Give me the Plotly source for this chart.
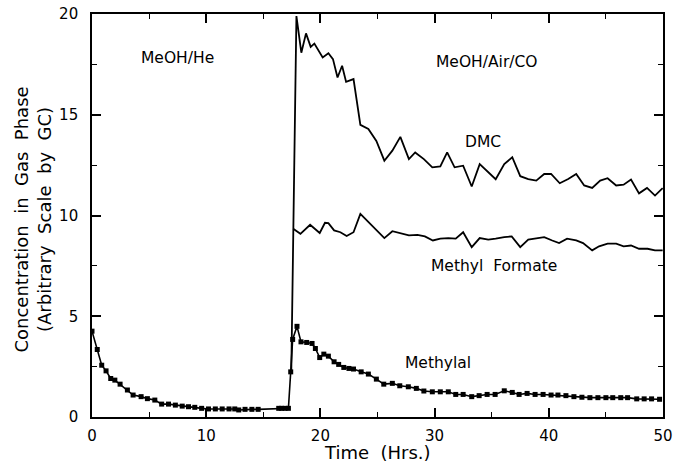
import plotly.graph_objects as go

# ---------------- data ----------------
dmc_x = [17.45, 17.9, 18.33, 18.74, 19.15, 19.47, 20.2, 20.7, 21.1, 21.5, 21.9, 22.25, 22.9,
         23.5, 24.2, 24.9, 25.6, 26.3, 27.0, 27.75, 28.3, 29.06, 29.8, 30.5, 31.1, 31.75,
         32.5, 33.25, 33.95, 34.7, 35.35, 36.1, 36.8, 37.5, 38.2, 38.9, 39.6, 40.2, 40.96,
         41.7, 42.4, 43.1, 43.8, 44.5, 45.15, 45.9, 46.55, 47.2, 47.9, 48.6, 49.3, 49.97]
dmc_y = [2.2, 19.9, 18.08, 19.04, 18.37, 18.53, 17.84, 18.05, 17.76, 16.85, 17.43, 16.63, 16.77,
         14.5, 14.29, 13.7, 12.72, 13.22, 13.9, 12.8, 13.13, 12.8, 12.39, 12.44, 13.13, 12.39,
         12.47, 11.44, 12.55, 12.15, 11.8, 12.55, 12.89, 11.95, 11.81, 11.73, 12.06, 12.06, 11.6,
         11.81, 12.06, 11.49, 11.37, 11.73, 11.85, 11.49, 11.53, 11.78, 11.1, 11.37, 10.99, 11.36]

mf_x = [17.62, 18.25, 19.1, 19.94, 20.4, 20.7, 21.2, 21.75, 22.3, 22.9, 23.5, 24.5, 25.6,
        26.3, 27.0, 27.75, 28.5, 29.15, 29.85, 30.5, 31.2, 31.85, 32.5, 33.25, 33.95, 34.7,
        35.35, 36.1, 36.75, 37.5, 38.2, 38.9, 39.6, 40.3, 40.9, 41.6, 42.4, 43.0, 43.8, 44.4,
        45.15, 45.9, 46.55, 47.2, 47.9, 48.65, 49.3, 49.97]
mf_y = [9.34, 9.09, 9.54, 9.13, 9.64, 9.62, 9.26, 9.17, 8.98, 9.17, 10.08, 9.5, 8.88,
        9.22, 9.12, 9.01, 9.04, 8.96, 8.76, 8.85, 8.88, 8.85, 9.17, 8.43, 8.88, 8.8,
        8.85, 8.93, 8.96, 8.43, 8.8, 8.85, 8.93, 8.76, 8.63, 8.85, 8.76, 8.63, 8.27, 8.47,
        8.6, 8.6, 8.47, 8.51, 8.35, 8.35, 8.27, 8.27]

ml_x = [0.0, 0.46, 0.85, 1.23, 1.64, 2.0, 2.46, 3.1, 3.6, 4.3, 4.85, 5.5, 6.1, 6.7, 7.3,
        7.9, 8.45, 9.0, 9.6, 10.2, 10.8, 11.4, 12.0, 12.5, 12.85, 13.4, 14.0, 14.55,
        16.35, 16.6, 16.9, 17.2, 17.4, 17.57, 17.95, 18.3, 18.8, 19.27, 19.56, 19.94,
        20.3, 20.7, 21.2, 21.6, 22.05, 22.5, 22.9, 23.57, 24.2, 24.9, 25.55, 26.3, 26.95,
        27.7, 28.4, 29.06, 29.8, 30.5, 31.2, 31.85, 32.5, 33.25, 33.9, 34.6, 35.3, 36.1,
        36.8, 37.4, 38.1, 38.8, 39.5, 40.2, 40.8, 41.5, 42.2, 42.9, 43.6, 44.3, 45.0,
        45.6, 46.3, 46.9, 47.7, 48.35, 49.0, 49.7]
ml_y = [4.26, 3.35, 2.57, 2.29, 1.91, 1.83, 1.63, 1.34, 1.09, 1.01, 0.91, 0.84, 0.64, 0.64, 0.59,
        0.54, 0.51, 0.48, 0.43, 0.4, 0.4, 0.4, 0.4, 0.4, 0.35, 0.38, 0.38, 0.38,
        0.43, 0.43, 0.43, 0.43, 2.24, 3.85, 4.5, 3.73, 3.7, 3.65, 3.4, 2.95,
        3.12, 3.02, 2.74, 2.61, 2.46, 2.41, 2.38, 2.24, 2.13, 1.88, 1.63, 1.67, 1.55,
        1.5, 1.42, 1.29, 1.25, 1.25, 1.25, 1.12, 1.12, 1.01, 1.06, 1.12, 1.12, 1.3,
        1.22, 1.12, 1.17, 1.12, 1.12, 1.09, 1.09, 1.06, 1.01, 0.98, 0.96, 0.96, 0.96,
        0.96, 0.96, 0.96, 0.9, 0.9, 0.9, 0.88]

labels = ["MeOH/He", "MeOH/Air/CO", "DMC", "Methyl\u00a0\u00a0Formate", "Methylal"]
label_x = [7.46, 34.6, 34.25, 35.2, 30.3]
label_y = [17.8, 17.6, 13.63, 7.48, 2.69]

x_ticks = [0, 10, 20, 30, 40, 50]
y_ticks = [0, 5, 10, 15, 20]

x_title = "Time\u00a0\u00a0(Hrs.)"
y_title = ("Concentration\u00a0\u00a0in\u00a0\u00a0Gas\u00a0\u00a0Phase<br>"
           "(Arbitrary\u00a0\u00a0Scale\u00a0\u00a0by\u00a0\u00a0GC)")

# ---------------- figure ----------------
FONT = "DejaVu Sans, Arial, sans-serif"
fig = go.Figure()
fig.add_trace(go.Scatter(x=dmc_x, y=dmc_y, mode="lines",
                         line=dict(color="black", width=1.8), name="DMC"))
fig.add_trace(go.Scatter(x=mf_x, y=mf_y, mode="lines",
                         line=dict(color="black", width=1.8), name="Methyl Formate"))
fig.add_trace(go.Scatter(x=ml_x, y=ml_y, mode="lines+markers",
                         line=dict(color="black", width=1.6),
                         marker=dict(color="black", size=5, symbol="square"),
                         name="Methylal"))

for t, xx, yy in zip(labels, label_x, label_y):
    fig.add_annotation(x=xx, y=yy, text=t, showarrow=False,
                       font=dict(family=FONT, size=15.5, color="black"))

fig.add_annotation(xref="paper", yref="paper", x=-0.105, y=0.49,
                   text=y_title, textangle=-90, showarrow=False,
                   xanchor="center", yanchor="middle",
                   font=dict(family=FONT, size=18, color="black"))
fig.add_annotation(xref="paper", yref="paper", x=0.5, y=-0.089,
                   text=x_title, showarrow=False,
                   xanchor="center", yanchor="middle",
                   font=dict(family=FONT, size=18, color="black"))

axis_common = dict(showline=True, linecolor="black", linewidth=1.6, mirror="ticks",
                   ticks="inside", ticklen=9, tickwidth=1.5, tickcolor="black",
                   showgrid=False, zeroline=False, automargin=False,
                   ticklabeloverflow="allow",
                   tickfont=dict(family=FONT, size=15, color="black"))

fig.update_xaxes(range=[0, 50], tickvals=x_ticks, ticktext=[str(v) for v in x_ticks],
                 minor=dict(ticks="inside", ticklen=5, dtick=5, tick0=0, tickcolor="black",
                            tickwidth=1.2),
                 ticklabelstandoff=4,
                 **axis_common)
fig.update_yaxes(range=[0, 20], tickvals=y_ticks, ticktext=[str(v) for v in y_ticks],
                 minor=dict(ticks="inside", ticklen=5, dtick=2.5, tick0=0, tickcolor="black",
                            tickwidth=1.2),
                 ticklabelstandoff=9,
                 **axis_common)

fig.update_layout(width=673, height=467, showlegend=False,
                  margin=dict(l=92, r=10, t=14, b=50),
                  plot_bgcolor="white", paper_bgcolor="white",
                  font=dict(family=FONT, color="black"))

# remove the default 8px page margin so the figure fills the window exactly
fig.write_html("out.html", config={"displayModeBar": False},
               post_script="document.body.style.margin='0';")
